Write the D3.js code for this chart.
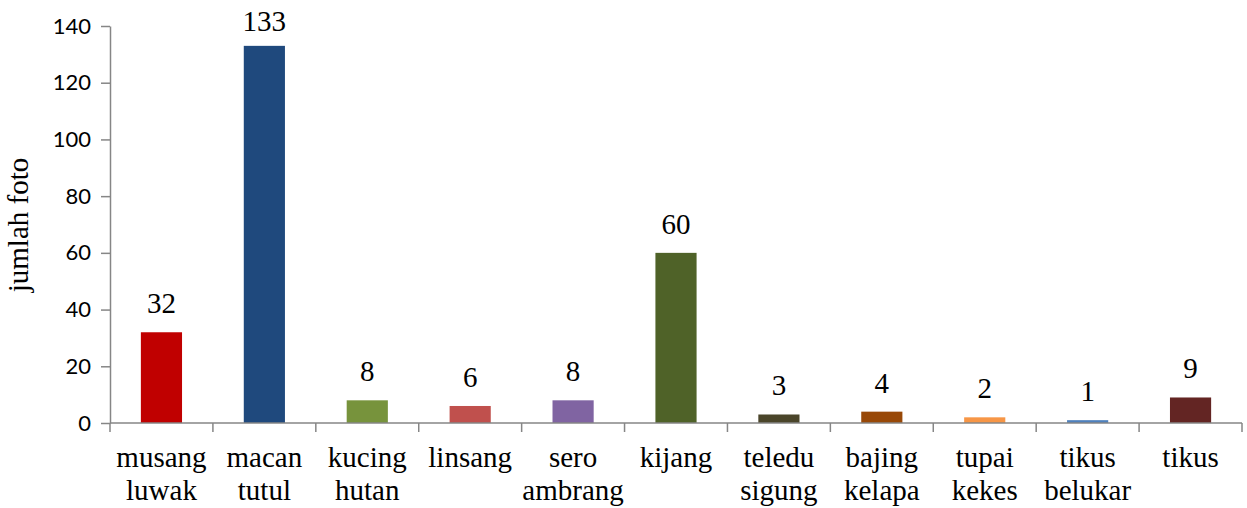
<!DOCTYPE html>
<html>
<head>
<meta charset="utf-8">
<script src="https://cdn.jsdelivr.net/npm/d3@7"></script>
<style>
  html, body { margin: 0; padding: 0; background: #fff; }
  svg { display: block; }
  .serif { font-family: "Liberation Serif", "Times New Roman", Times, serif; }
  .sans { font-family: Lato, "Open Sans", sans-serif; }
</style>
</head>
<body>
<svg id="chart" width="1247" height="508"></svg>
<script>
// Camera-trap photo counts per species
const categories = [
  ["musang", "luwak"], ["macan", "tutul"], ["kucing", "hutan"], ["linsang"],
  ["sero", "ambrang"], ["kijang"], ["teledu", "sigung"], ["bajing", "kelapa"],
  ["tupai", "kekes"], ["tikus", "belukar"], ["tikus"]
];
const values = [32, 133, 8, 6, 8, 60, 3, 4, 2, 1, 9];
const colors = ["#C00000", "#1F497D", "#77933C", "#C0504D", "#8064A2", "#4F6228",
                "#4A452A", "#984807", "#F79646", "#4F81BD", "#632523"];
const yTicks = [0, 20, 40, 60, 80, 100, 120, 140];
const yTitle = "jumlah foto";

(function draw() {
  const svg = d3.select("#chart");
  const plotLeft = 110, plotRight = 1242, plotTop = 26, plotBottom = 423;
  const axisColor = "#868686";

  const keys = categories.map((c, i) => i);
  const x = d3.scaleBand().domain(keys).range([plotLeft, plotRight]).paddingInner(0.6).paddingOuter(0.3);
  const xb = d3.scaleBand().domain(keys).range([plotLeft, plotRight]);
  const y = d3.scaleLinear().domain([0, 140]).range([plotBottom, plotTop]);

  // Bars
  svg.append("g").selectAll("rect").data(values).join("rect")
    .attr("x", (d, i) => x(i))
    .attr("width", x.bandwidth())
    .attr("y", d => y(d))
    .attr("height", d => y(0) - y(d))
    .attr("fill", (d, i) => colors[i]);

  // Value labels above bars, kept inside the plot top
  svg.append("g").selectAll("text").data(values).join("text")
    .attr("class", "serif")
    .attr("x", (d, i) => x(i) + x.bandwidth() / 2)
    .attr("y", d => Math.max(y(d) - 19, plotTop + 5))
    .attr("text-anchor", "middle")
    .style("font-size", "29px")
    .attr("fill", "#000")
    .text(d => d);

  // Y axis
  const yAxis = svg.append("g")
    .attr("transform", `translate(${plotLeft},0)`)
    .call(d3.axisLeft(y).tickValues(yTicks).tickSize(9).tickPadding(10).tickSizeOuter(0));
  yAxis.attr("font-family", null).attr("font-size", null);
  yAxis.select(".domain").attr("stroke", axisColor).attr("stroke-width", 1.5);
  yAxis.selectAll(".tick line").attr("stroke", axisColor).attr("stroke-width", 1.5);
  yAxis.selectAll(".tick text")
    .attr("class", "sans").style("font-size", "22px").attr("fill", "#000");

  // X axis with boundary ticks between categories
  const xAxisG = svg.append("g").attr("transform", `translate(0,${plotBottom})`);
  xAxisG.append("line")
    .attr("x1", plotLeft).attr("x2", plotRight).attr("y1", 0).attr("y2", 0)
    .attr("stroke", axisColor).attr("stroke-width", 1.5);
  const bounds = keys.map(k => xb(k)).concat([plotRight]);
  xAxisG.selectAll("line.tk").data(bounds).join("line")
    .attr("class", "tk")
    .attr("x1", d => d).attr("x2", d => d).attr("y1", 0).attr("y2", 9)
    .attr("stroke", axisColor).attr("stroke-width", 1.5);

  // Category labels (one or two lines)
  const lbl = xAxisG.selectAll("text").data(categories).join("text")
    .attr("class", "serif")
    .attr("text-anchor", "middle")
    .style("font-size", "29px")
    .attr("fill", "#000");
  lbl.each(function(lines, i) {
    const t = d3.select(this);
    lines.forEach((s, j) => {
      t.append("tspan")
        .attr("x", xb(i) + xb.bandwidth() / 2)
        .attr("y", 44 + j * 33)
        .text(s);
    });
  });

  // Y axis title
  svg.append("text")
    .attr("class", "serif")
    .attr("transform", "translate(28,225) rotate(-90)")
    .attr("text-anchor", "middle")
    .style("font-size", "29px")
    .attr("fill", "#000")
    .text(yTitle);
})();
</script>
</body>
</html>
